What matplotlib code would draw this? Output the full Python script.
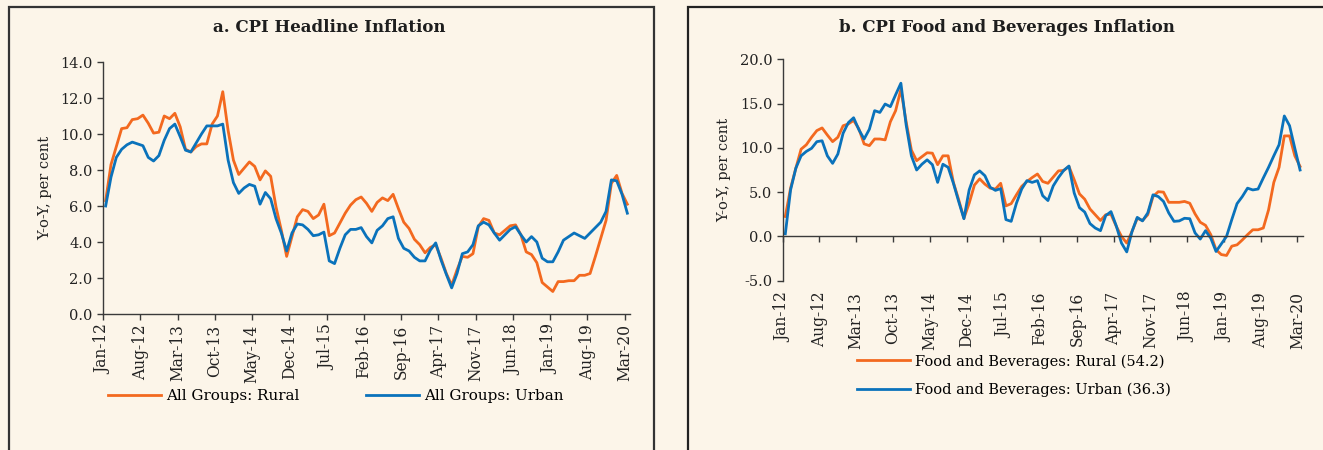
import numpy as np
import pandas as pd
import matplotlib
matplotlib.use('Agg')
import matplotlib.pyplot as plt
from matplotlib.patches import Rectangle

# data: monthly y-o-y inflation, Jan-12 .. Mar-20
months = pd.date_range('2012-01-01', '2020-03-01', freq='MS')
month_labels = [d.strftime('%b-%y') for d in months]

rural_all = [6.3, 8.3, 9.3, 10.3, 10.35, 10.8, 10.85, 11.05, 10.6, 10.05,
             10.1, 11.0, 10.85, 11.15, 10.4, 9.15, 9.0, 9.3, 9.45, 9.45,
             10.55, 11.0, 12.35, 10.2, 8.55, 7.75, 8.1, 8.45, 8.2, 7.45,
             7.95, 7.65, 5.95, 4.65, 3.2, 4.3, 5.4, 5.8, 5.7, 5.3,
             5.5, 6.1, 4.35, 4.5, 5.05, 5.6, 6.05, 6.35, 6.5, 6.15,
             5.7, 6.2, 6.45, 6.3, 6.65, 5.85, 5.1, 4.75, 4.15, 3.85,
             3.4, 3.7, 3.85, 3.1, 2.25, 1.6, 2.45, 3.2, 3.15, 3.35,
             4.85, 5.3, 5.2, 4.5, 4.4, 4.65, 4.9, 4.95, 4.4, 3.45,
             3.3, 2.85, 1.75, 1.5, 1.25, 1.8, 1.8, 1.85, 1.85, 2.15,
             2.15, 2.25, 3.2, 4.2, 5.2, 7.25, 7.7, 6.7, 6.1]

urban_all = [6.0, 7.6, 8.7, 9.15, 9.4, 9.55, 9.45, 9.35, 8.7, 8.5,
             8.8, 9.65, 10.3, 10.55, 9.85, 9.1, 9.0, 9.5, 10.0, 10.45,
             10.45, 10.45, 10.55, 8.55, 7.3, 6.7, 7.0, 7.2, 7.1, 6.1,
             6.75, 6.4, 5.3, 4.5, 3.5, 4.5, 5.0, 4.95, 4.7, 4.35,
             4.4, 4.55, 2.95, 2.8, 3.65, 4.4, 4.7, 4.7, 4.8, 4.3,
             3.95, 4.65, 4.9, 5.3, 5.4, 4.2, 3.65, 3.5, 3.15, 2.95,
             2.95, 3.55, 3.95, 3.0, 2.2, 1.45, 2.25, 3.35, 3.45, 3.85,
             4.9, 5.1, 4.95, 4.5, 4.1, 4.4, 4.7, 4.85, 4.4, 4.0,
             4.3, 4.0, 3.1, 2.9, 2.9, 3.45, 4.1, 4.3, 4.5, 4.35,
             4.2, 4.5, 4.8, 5.1, 5.7, 7.45, 7.4, 6.65, 5.6]

rural_food = [2.25, 5.45, 7.7, 9.85, 10.35, 11.2, 11.95, 12.25, 11.45, 10.7,
              11.2, 12.5, 12.7, 13.1, 12.15, 10.45, 10.25, 11.0, 11.0, 10.9,
              12.95, 14.2, 16.6, 12.95, 9.75, 8.55, 9.0, 9.45, 9.4, 8.1,
              9.1, 9.1, 6.1, 4.15, 2.05, 3.75, 5.8, 6.5, 5.9, 5.45,
              5.35, 6.0, 3.45, 3.7, 4.7, 5.65, 6.2, 6.65, 7.05, 6.2,
              6.0, 6.7, 7.4, 7.45, 7.9, 6.4, 4.8, 4.2, 3.1, 2.45,
              1.8, 2.45, 2.5, 1.15, 0.0, -0.75, 0.55, 2.05, 1.8, 2.45,
              4.5, 5.05, 5.0, 3.85, 3.85, 3.85, 3.95, 3.75, 2.55, 1.6,
              1.25, 0.2, -1.5, -2.05, -2.15, -1.1, -0.95, -0.4, 0.2, 0.75,
              0.75, 0.95, 3.0, 6.1, 7.8, 11.35, 11.35, 9.1, 7.9]

urban_food = [0.3, 5.25, 7.7, 9.1, 9.6, 9.95, 10.7, 10.8, 9.1, 8.25,
              9.3, 11.65, 12.85, 13.4, 12.05, 11.0, 12.1, 14.2, 14.0, 14.95,
              14.65, 16.0, 17.3, 12.6, 9.1, 7.5, 8.15, 8.65, 8.1, 6.1,
              8.15, 7.8, 6.0, 3.95, 2.0, 5.25, 6.95, 7.4, 6.85, 5.55,
              5.2, 5.4, 1.9, 1.7, 3.75, 5.35, 6.3, 6.1, 6.3, 4.6,
              4.05, 5.7, 6.65, 7.45, 7.95, 4.9, 3.25, 2.75, 1.45, 0.95,
              0.65, 2.35, 2.8, 1.2, -0.75, -1.75, 0.55, 2.15, 1.75, 2.65,
              4.7, 4.5, 3.95, 2.65, 1.7, 1.75, 2.05, 2.0, 0.4, -0.3,
              0.65, -0.2, -1.7, -0.85, 0.0, 1.9, 3.7, 4.5, 5.45, 5.25,
              5.35, 6.6, 7.8, 9.1, 10.35, 13.6, 12.5, 9.95, 7.5]

# styling
bg = '#fcf5e9'
orange = '#f3691f'
blue = '#0a72bb'
axcol = '#3a3a3a'

plt.rcParams['font.family'] = ['DejaVu Serif']
plt.rcParams['axes.unicode_minus'] = False

W, H = 1323, 450
fig = plt.figure(figsize=(W / 100, H / 100), dpi=100, facecolor=bg)


def px(x0, y0, x1, y1):
    # pixel box (top-left origin) -> figure fraction rect
    return [x0 / W, 1 - y1 / H, (x1 - x0) / W, (y1 - y0) / H]


x = np.arange(len(months))
tick_pos = np.arange(0, len(months), 7) - 0.5
tick_lab = [month_labels[i] for i in range(0, len(months), 7)]

# panel frames
fig.add_artist(Rectangle((8.5 / W, -0.1), (653.7 - 8.5) / W, 1.1 - 6.5 / H,
                         transform=fig.transFigure, fill=False,
                         edgecolor='#333333', lw=1.6))
fig.add_artist(Rectangle((688.3 / W, -0.1), 0.5, 1.1 - 6.5 / H,
                         transform=fig.transFigure, fill=False,
                         edgecolor='#222222', lw=1.6))


def style_axes(ax):
    ax.set_facecolor('none')
    for s in ['top', 'right']:
        ax.spines[s].set_visible(False)
    for s in ['left', 'bottom']:
        ax.spines[s].set_color(axcol)
        ax.spines[s].set_linewidth(1.0)
    ax.tick_params(colors=axcol, length=4, width=1.0, labelsize=10.5,
                   labelcolor='#222222')
    ax.tick_params(axis='x', labelsize=11.2)
    ax.set_xlim(-0.5, len(months) - 0.5)


# panel a
ax1 = fig.add_axes(px(103, 62, 630, 314))
style_axes(ax1)
ax1.plot(x, rural_all, color=orange, lw=2.0, label='All Groups: Rural')
ax1.plot(x, urban_all, color=blue, lw=2.0, label='All Groups: Urban')
ax1.set_ylim(0, 14)
ax1.set_yticks(np.arange(0, 14.1, 2))
ax1.yaxis.set_major_formatter(matplotlib.ticker.FormatStrFormatter('%.1f'))
ax1.set_xticks(tick_pos)
ax1.set_xticklabels(tick_lab, rotation=90)
ax1.set_ylabel('Y-o-Y, per cent', fontsize=10.5, color='#222222', labelpad=6)
fig.text(329 / W, 1 - 28 / H, 'a. CPI Headline Inflation', ha='center',
         va='center', fontsize=12, fontweight='bold', color='#1e1e1e')
fig.legend(handles=ax1.get_lines(), loc='center left',
           bbox_to_anchor=(108 / W, 1 - 396 / H), ncol=2, frameon=False,
           fontsize=10.9, handlelength=3.5, handletextpad=0.35,
           columnspacing=4.4, borderpad=0, borderaxespad=0)

# panel b
ax2 = fig.add_axes(px(782.7, 59.3, 1302.7, 280.7))
style_axes(ax2)
ax2.plot(x, rural_food, color=orange, lw=2.0,
         label='Food and Beverages: Rural (54.2)')
ax2.plot(x, urban_food, color=blue, lw=2.0,
         label='Food and Beverages: Urban (36.3)')
ax2.set_ylim(-5, 20)
ax2.set_yticks(np.arange(-5, 20.1, 5))
ax2.yaxis.set_major_formatter(matplotlib.ticker.FormatStrFormatter('%.1f'))
ax2.spines['bottom'].set_position(('data', 0))
ax2.set_xticks(tick_pos)
ax2.tick_params(axis='x', labelbottom=False)
sec = ax2.secondary_xaxis('bottom')
sec.set_xticks(tick_pos)
sec.set_xticklabels(tick_lab, rotation=90)
sec.tick_params(length=0, pad=8, labelsize=11.2, labelcolor='#222222')
sec.spines['bottom'].set_visible(False)
ax2.set_ylabel('Y-o-Y, per cent', fontsize=10.5, color='#222222', labelpad=6)
fig.text(1007 / W, 1 - 28 / H, 'b. CPI Food and Beverages Inflation',
         ha='center', va='center', fontsize=12, fontweight='bold',
         color='#1e1e1e')
fig.legend(handles=ax2.get_lines(), loc='center left',
           bbox_to_anchor=(857 / W, 1 - 375.5 / H), ncol=1, frameon=False,
           fontsize=10.5, handlelength=3.6, handletextpad=0.35,
           labelspacing=0.95, borderpad=0, borderaxespad=0)

fig.savefig('out.png', dpi=100, facecolor=bg)
